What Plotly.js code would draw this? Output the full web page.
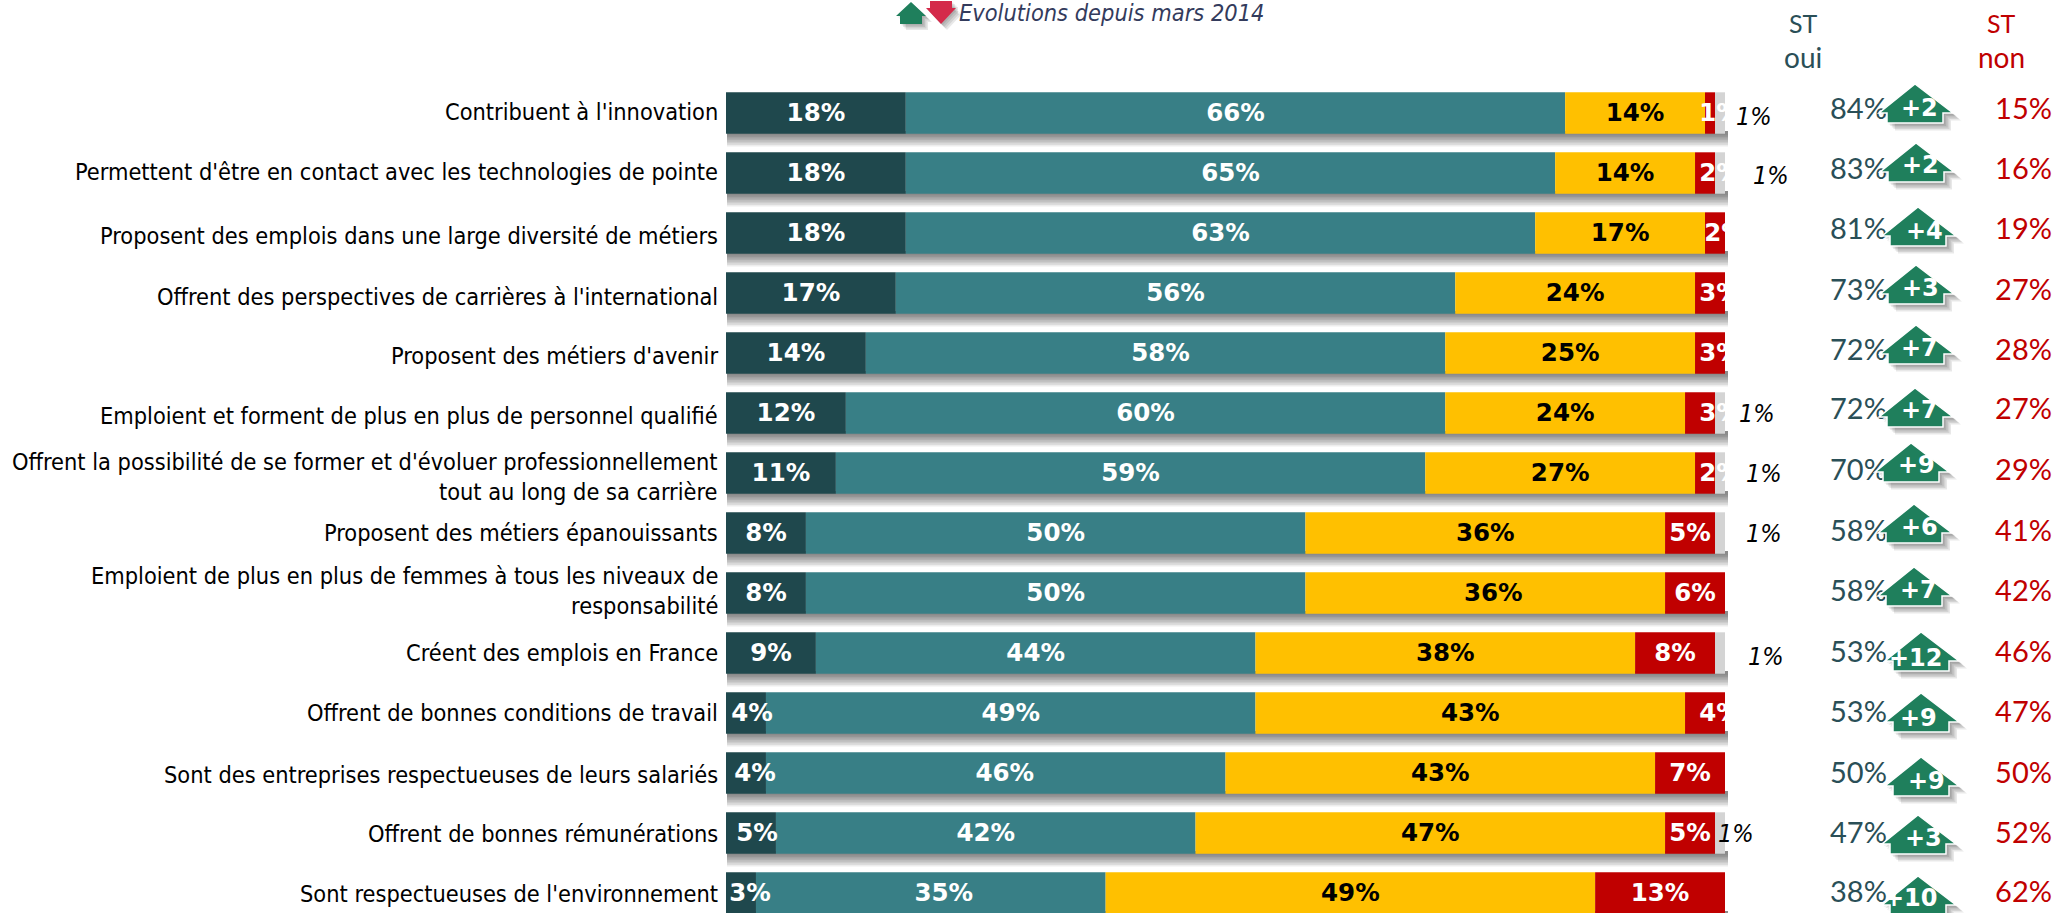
<!DOCTYPE html>
<html><head><meta charset="utf-8">
<script src="https://cdn.plot.ly/plotly-3.0.1.min.js"></script>
<style>html,body{margin:0;padding:0;background:#fff;overflow:hidden}</style>
</head><body><div id="chart" style="width:2059px;height:913px"></div>
<script>
// ---- data ----
const categories = [
 "Contribuent à l'innovation",
 "Permettent d'être en contact avec les technologies de pointe",
 "Proposent des emplois dans une large diversité de métiers",
 "Offrent des perspectives de carrières à l'international",
 "Proposent des métiers d'avenir",
 "Emploient et forment de plus en plus de personnel qualifié",
 "Offrent la possibilité de se former et d'évoluer professionnellement<br>tout au long de sa carrière",
 "Proposent des métiers épanouissants",
 "Emploient de plus en plus de femmes à tous les niveaux de<br>responsabilité",
 "Créent des emplois en France",
 "Offrent de bonnes conditions de travail",
 "Sont des entreprises respectueuses de leurs salariés",
 "Offrent de bonnes rémunérations",
 "Sont respectueuses de l'environnement"];
const tresOui   = [18,18,18,17,14,12,11,8,8,9,4,4,5,3];
const plutotOui = [66,65,63,56,58,60,59,50,50,44,49,46,42,35];
const plutotNon = [14,14,17,24,25,24,27,36,36,38,43,43,47,49];
const tresNon   = [1,2,2,3,3,3,2,5,6,8,4,7,5,13];
const nsp       = [1,1,0,0,0,1,1,1,0,1,0,0,1,0];
const stOui     = [84,83,81,73,72,72,70,58,58,53,53,50,47,38];
const stNon     = [15,16,19,27,28,27,29,41,42,46,47,50,52,62];
const evolution = [2,2,4,3,7,7,9,6,7,12,9,9,3,10];

// ---- layout constants ----
const W=2059,H=913,BAR_L=726,BAR_R=1725,PLOT_T=83;
const NARROW="'DejaVu Sans Condensed','DejaVu Sans',sans-serif", BOLD="'DejaVu Sans',sans-serif", THIN="Lato, sans-serif";
const C={dark:'#1f484d',teal:'#387f86',yellow:'#ffc000',red:'#c00000',grey:'#d4d4d4',green:'#1f7f5c',down:'#d42a4a',stOui:'#2a4f57',stNon:'#c00000'};
const fx=p=>p/W, fy=p=>1-p/H;
// placement of the hand-positioned callouts, in page pixels
const arrowX=[1915,1916,1918,1916,1916,1915,1911,1914,1914,1921,1921,1921,1918,1918];
const arrowTop=[84,143,207,265,325,388,443,504,567,632,693,757,815,876];
const evoX=[1919,1920,1924,1920,1919,1919,1916,1919,1918,1916,1918,1926,1923,1911];
const evoY=[108,165,231,288,348,410,465,527,590,658,718,781,838,898];
const nspX=[1754,1771,0,0,0,1757,1764,1764,0,1766,0,0,1736,0];
const nspY=[117,176,0,0,0,413,473,533,0,656,0,0,833,0];
const labelY=[112,172,236,297,356,416,477,533,591,653,713,775,834,894];
const stY=[112,172,232,293,353,412,473,534,594,655,715,776,836,895];
// label anchors (axis %) where the label is not centred on its segment
const darkLabelAt=[0,0,0,0,0,0,0,0,0,0,2.6,2.9,3.1,2.4];
const tealLabelShift=[0,0,0,0,0.5,0,0,0,0,0,0,0.9,0,1.3];
const yellowLabelShift=[0,0,0,0,0,0,0,0,0.8,0,0,0,0,0];
const redLabelAt=[99.5,99.5,100,99.5,99.5,99.5,99.5,0,0,0,99.5,0,0,0];

// ---- cumulative starts ----
const rows=categories.map((_,i)=>i);
const b1=rows.map(()=>0), b2=tresOui.slice();
const b3=rows.map(i=>b2[i]+plutotOui[i]);
const b4=rows.map(i=>b3[i]+plutotNon[i]);
const b5=rows.map(i=>b4[i]+tresNon[i]);
const rowOf=p=>(p-PLOT_T)/60-0.5;

const bar=(name,x,base,color)=>({type:'bar',orientation:'h',name,x,base,y:rows,width:0.69,
  marker:{color,line:{width:0}},hoverinfo:'skip',showlegend:false});
const lab=(name,vals,base,color,at,shift)=>({type:'scatter',mode:'text',name,
  x:vals.map((v,i)=>(at&&at[i])?at[i]:base[i]+v/2+(shift?shift[i]:0)),y:rows.map(i=>i+0.035),text:vals.map(v=>v+'%'),
  textposition:'middle center',cliponaxis:true,hoverinfo:'skip',showlegend:false,
  textfont:{family:BOLD,size:24.5,weight:700,color}});

const data=[
 bar('Ne se prononce pas',nsp,b5,C.grey),
 bar('Tout à fait',tresOui,b1,C.dark),
 bar('Plutôt',plutotOui,b2,C.teal),
 bar('Plutôt pas',plutotNon,b3,C.yellow),
 bar('Pas du tout',tresNon,b4,C.red),
 lab('l1',tresOui,b1,'#fff',darkLabelAt),
 lab('l2',plutotOui,b2,'#fff',null,tealLabelShift),
 lab('l3',plutotNon,b3,'#000',null,yellowLabelShift),
 lab('l4',tresNon,b4,'#fff',redLabelAt),
 {type:'scatter',mode:'text',name:'ST oui',xaxis:'x2',yaxis:'y',x:rows.map(()=>1830),y:stY.map(rowOf),text:stOui.map(v=>v+'%'),
  textposition:'middle right',cliponaxis:false,hoverinfo:'skip',showlegend:false,
  textfont:{family:THIN,size:29,weight:400,color:C.stOui}},
 {type:'scatter',mode:'text',name:'ST non',xaxis:'x2',yaxis:'y',x:rows.map(()=>2052),y:stY.map(rowOf),text:stNon.map(v=>v+'%'),
  textposition:'middle left',cliponaxis:false,hoverinfo:'skip',showlegend:false,
  textfont:{family:THIN,size:29,weight:400,color:C.stNon}}
];

// ---- shapes ----
const shapes=[];
for(const i of rows){ for(let k=1;k<=8;k++){
  shapes.push({type:'rect',layer:'below',xref:'paper',yref:'y',x0:fx(BAR_L+1),x1:fx(BAR_R+3),
    y0:i+0.3,y1:i+0.345+k*1.6/60,fillcolor:'rgba(0,0,0,0.072)',line:{width:0}});
}}
const upPath=(dx,dy)=>{const p=[[0,0],[38,-29],[28,-29],[28,-39],[-28,-39],[-28,-29],[-36,-29]];
  return 'M'+p.map(q=>(q[0]+dx)+','+(q[1]+dy)).join(' L')+' Z';};
const pxShape=(x,y,path,fill,line)=>({type:'path',layer:'above',xref:'paper',yref:'paper',xsizemode:'pixel',ysizemode:'pixel',
  xanchor:fx(x),yanchor:fy(y),path,fillcolor:fill,line:line||{width:0}});
for(const i of rows){
  for(let k=5;k>=1;k--) shapes.push(pxShape(arrowX[i],arrowTop[i],upPath(k*1.6,-k*1.5),'rgba(0,0,0,0.09)'));
  shapes.push(pxShape(arrowX[i],arrowTop[i],upPath(0,0),C.green,{color:'#fff',width:1.5}));
}
// legend arrows
const miniUp='M0,0 L15,-14 L11,-14 L11,-22 L-11,-22 L-11,-14 L-15,-14 Z';
const miniDown='M-11,0 L11,0 L11,-7 L15,-7 L0,-23 L-15,-7 L-11,-7 Z';
for(let k=4;k>=1;k--){
  shapes.push(pxShape(911+k*1.5,2+k*1.5,miniUp,'rgba(0,0,0,0.09)'));
  shapes.push(pxShape(941+k*1.5,1+k*1.5,miniDown,'rgba(0,0,0,0.09)'));
}
shapes.push(pxShape(911,2,miniUp,C.green));
shapes.push(pxShape(941,1,miniDown,C.down));

// ---- annotations ----
const txt=(x,y,text,font,xanchor)=>({xref:'paper',yref:'paper',x:fx(x),y:fy(y),text,showarrow:false,
  xanchor:xanchor||'center',yanchor:'middle',font,borderpad:0,borderwidth:0,align:xanchor==='right'?'right':'center'});
const annotations=[
 txt(959,13,'Evolutions depuis mars 2014',{family:NARROW,size:23.4,style:'italic',color:'#333b5c'},'left'),
 txt(1803,23,'ST',{family:THIN,size:25,weight:400,color:C.stOui}),
 txt(1803,57,'oui',{family:THIN,size:28,weight:400,color:C.stOui}),
 txt(2001,23,'ST',{family:THIN,size:25,weight:400,color:C.stNon}),
 txt(2001,57,'non',{family:THIN,size:28,weight:400,color:C.stNon})
];
for(const i of rows){
  annotations.push(txt(718,labelY[i],categories[i],{family:NARROW,size:23.35,color:'#000'},'right'));
  annotations.push(txt(evoX[i],evoY[i],'+'+evolution[i],{family:BOLD,size:24,weight:700,color:'#fff'}));
  if(nsp[i]) annotations.push(txt(nspX[i],nspY[i],nsp[i]+'%',{family:NARROW,size:25,style:'italic',color:'#000'}));
}

const hidden={showgrid:false,zeroline:false,showticklabels:false,ticks:'',showline:false,fixedrange:true};
const layout={width:W,height:H,margin:{l:0,r:0,t:0,b:0,pad:0},autosize:false,
 paper_bgcolor:'#fff',plot_bgcolor:'rgba(0,0,0,0)',barmode:'overlay',showlegend:false,
 xaxis:{...hidden,domain:[BAR_L/W,BAR_R/W],range:[0,100]},
 xaxis2:{...hidden,domain:[0,1],range:[0,W],anchor:'y'},
 yaxis:{...hidden,domain:[0,(H-PLOT_T)/H],range:[(H-PLOT_T)/60-0.5,-0.5]},
 shapes,annotations};
Plotly.newPlot('chart',data,layout,{displayModeBar:false,staticPlot:true});
</script></body></html>
